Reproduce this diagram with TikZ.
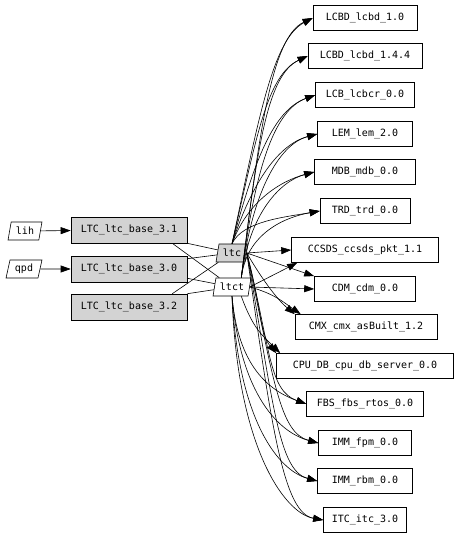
\documentclass[tikz,border=0pt]{standalone}
\usepackage{fontspec}
\setmonofont{DejaVu Sans Mono}
\usetikzlibrary{shapes.geometric,arrows.meta}
\definecolor{lightgrey}{HTML}{D3D3D3}

\begin{document}
\begin{tikzpicture}[x=1pt,y=1pt,font=\ttfamily\fontsize{10}{12}\selectfont,
  pkg/.style={draw,line width=.6pt,minimum height=25pt,inner sep=0pt},
  base/.style={pkg,fill=lightgrey,minimum height=26pt,minimum width=116pt},
  ext/.style={draw,line width=.6pt,trapezium,trapezium left angle=72,
              trapezium right angle=108,trapezium stretches=true,
              minimum height=18pt,inner xsep=2pt,inner ysep=0pt},
  dep/.style={line width=.6pt,-{Triangle[length=10pt,width=7pt]}},
  link/.style={line width=.6pt}]
  \useasboundingbox (0,0) rectangle (461,-537);
  % sources
  \node[ext,minimum width=34pt] (lih) at (25,-231) {lih};
  \node[ext,minimum width=36pt] (qpd) at (24,-269) {qpd};
  \node[base] (b31) at (129,-230) {LTC\_ltc\_base\_3.1};
  \node[base] (b30) at (129,-269) {LTC\_ltc\_base\_3.0};
  \node[base] (b32) at (129,-307) {LTC\_ltc\_base\_3.2};
  \node[ext,fill=lightgrey,minimum width=32pt] (ltc) at (232,-253) {ltc};
  \node[ext,minimum width=38pt] (ltct) at (232,-287) {ltct};
  % targets
  \node[pkg,minimum width=104pt] (t1)  at (365,-18)  {LCBD\_lcbd\_1.0};
  \node[pkg,minimum width=114pt] (t2)  at (365,-56)  {LCBD\_lcbd\_1.4.4};
  \node[pkg,minimum width=99pt]  (t3)  at (365,-95)  {LCB\_lcbcr\_0.0};
  \node[pkg,minimum width=95pt]  (t4)  at (365,-134) {LEM\_lem\_2.0};
  \node[pkg,minimum width=101pt] (t5)  at (365,-172) {MDB\_mdb\_0.0};
  \node[pkg,minimum width=90pt]  (t6)  at (365,-211) {TRD\_trd\_0.0};
  \node[pkg,minimum width=147pt] (t7)  at (365,-250) {CCSDS\_ccsds\_pkt\_1.1};
  \node[pkg,minimum width=101pt] (t8)  at (365,-289) {CDM\_cdm\_0.0};
  \node[pkg,minimum width=142pt] (t9)  at (366,-327) {CMX\_cmx\_asBuilt\_1.2};
  \node[pkg,minimum width=177pt] (t10) at (365,-366) {CPU\_DB\_cpu\_db\_server\_0.0};
  \node[pkg,minimum width=117pt] (t11) at (365,-404) {FBS\_fbs\_rtos\_0.0};
  \node[pkg,minimum width=93pt]  (t12) at (365,-443) {IMM\_fpm\_0.0};
  \node[pkg,minimum width=95pt]  (t13) at (365,-481) {IMM\_rbm\_0.0};
  \node[pkg,minimum width=83pt]  (t14) at (365,-520) {ITC\_itc\_3.0};
  % left side
  \draw[dep] (lih) -- (b31);
  \draw[dep] (qpd) -- (b30);
  \draw[link] (b31.south east) -- (ltc);
  \draw[link] ([xshift=-15pt]b31.south east) -- (ltct);
  \draw[link] ([yshift=-3pt]b30.north east) -- (ltc);
  \draw[link] ([yshift=4pt]b30.south east) -- (ltct);
  \draw[link] ([xshift=-15pt]b32.north east) -- (ltc);
  \draw[link] (b32.north east) -- (ltct);
  % upwards
  \draw[dep] (ltc.north) to[out=78,in=208,out distance=130pt,in distance=45pt] (t1.west);
  \draw[dep] (ltct.north east) to[out=83,in=205,out distance=150pt,in distance=45pt] (t1.west);
  \draw[dep] (ltc.north) to[out=77,in=205,out distance=110pt,in distance=45pt] (t2.west);
  \draw[dep] (ltct.north east) to[out=83,in=205,out distance=130pt,in distance=45pt] (t2.west);
  \draw[dep] (ltc.north) to[out=75,in=200,out distance=85pt,in distance=45pt] (t3.west);
  \draw[dep] (ltct.north east) to[out=83,in=200,out distance=105pt,in distance=45pt] (t3.west);
  \draw[dep] (ltc.north) to[out=72,in=195,out distance=65pt,in distance=40pt] (t4.west);
  \draw[dep] (ltct.north east) to[out=83,in=195,out distance=85pt,in distance=40pt] (t4.west);
  \draw[dep] (ltc.north) to[out=70,in=195,out distance=45pt,in distance=35pt] (t5.west);
  \draw[dep] (ltct.north east) to[out=83,in=195,out distance=65pt,in distance=35pt] (t5.west);
  \draw[dep] (ltc.north) to[out=65,in=190,out distance=25pt,in distance=35pt] (t6.west);
  \draw[dep] (ltct.north east) to[out=83,in=190,out distance=45pt,in distance=35pt] (t6.west);
  % across
  \draw[dep] (ltc.east) -- (t7.west);
  \draw[dep] (ltct.east) -- ([xshift=6pt]t7.south west);
  \draw[dep] (ltc.east) -- (t8.north west);
  \draw[dep] (ltct.east) -- (t8.west);
  % downwards
  \draw[dep] (ltc.east) to[out=-60,in=140,out distance=35pt,in distance=20pt] (t9.north west);
  \draw[dep] (ltct.east) to[out=-15,in=145,out distance=25pt,in distance=20pt] ([xshift=6pt]t9.north west);
  \draw[dep] (ltc.east) to[out=-75,in=130,out distance=55pt,in distance=25pt] (t10.north west);
  \draw[dep] (ltct.south east) to[out=-70,in=135,out distance=35pt,in distance=25pt] ([xshift=4pt]t10.north west);
  \draw[dep] (ltc.east) to[out=-76,in=160,out distance=100pt,in distance=40pt] (t11.west);
  \draw[dep] (ltct.south) to[out=-85,in=160,out distance=70pt,in distance=40pt] (t11.west);
  \draw[dep] (ltc.east) to[out=-78,in=165,out distance=130pt,in distance=40pt] (t12.west);
  \draw[dep] (ltct.south) to[out=-85,in=165,out distance=100pt,in distance=40pt] (t12.west);
  \draw[dep] (ltc.east) to[out=-80,in=165,out distance=155pt,in distance=40pt] (t13.west);
  \draw[dep] (ltct.south) to[out=-87,in=165,out distance=125pt,in distance=40pt] (t13.west);
  \draw[dep] (ltc.east) to[out=-82,in=170,out distance=180pt,in distance=40pt] (t14.west);
  \draw[dep] (ltct.south) to[out=-88,in=170,out distance=150pt,in distance=40pt] (t14.west);
\end{tikzpicture}
\end{document}
